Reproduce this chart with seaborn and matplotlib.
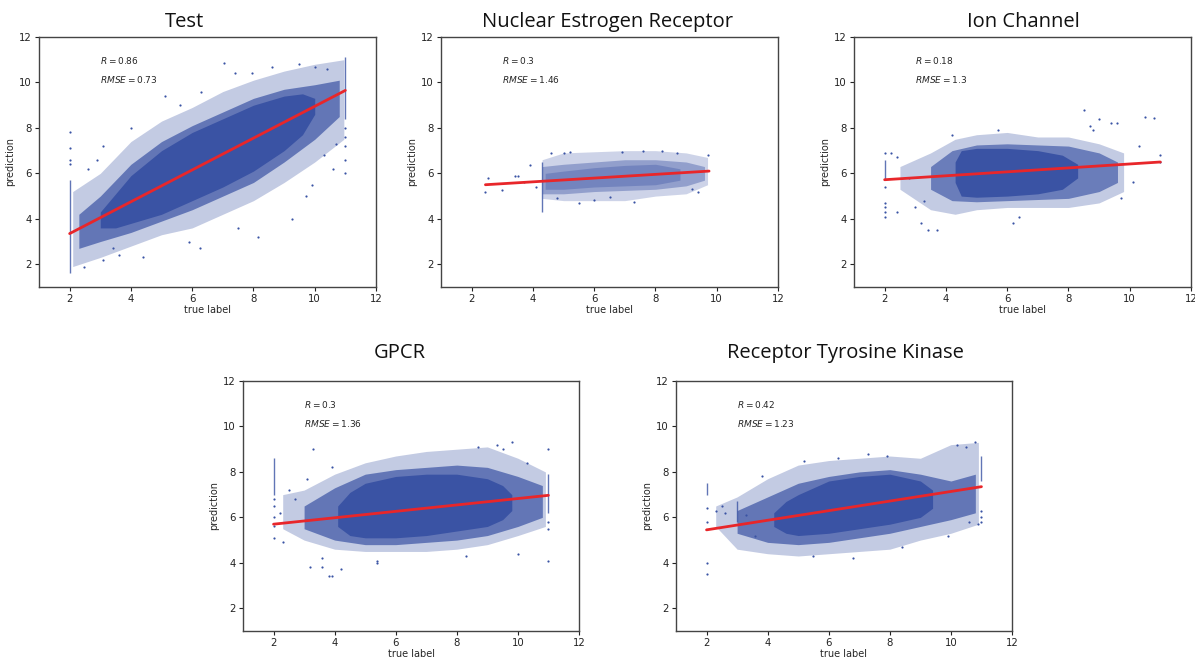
import numpy as np
import pandas as pd
import matplotlib
matplotlib.use("Agg")
import matplotlib.pyplot as plt
import seaborn as sns

# ---------------- data ----------------
titles = ["Test", "Nuclear Estrogen Receptor", "Ion Channel", "GPCR",
          "Receptor Tyrosine Kinase"]
r_values = [0.86, 0.3, 0.18, 0.3, 0.42]
rmse_values = [0.73, 1.46, 1.3, 1.36, 1.23]
x_ticks = [2, 4, 6, 8, 10, 12]
y_ticks = [2, 4, 6, 8, 10, 12]

# regression line end points (x, y)
test_line_x = [2.0, 11.0];  test_line_y = [3.35, 9.65]
ner_line_x = [2.45, 9.75];  ner_line_y = [5.5, 6.1]
ion_line_x = [2.0, 11.0];   ion_line_y = [5.72, 6.5]
gpcr_line_x = [2.0, 11.0];  gpcr_line_y = [5.7, 6.97]
rtk_line_x = [2.0, 11.0];   rtk_line_y = [5.45, 7.35]

# point-cloud envelopes: sparse outer band, medium band, dense core
test_outer_x = [2.1, 3, 4, 5, 6, 7, 8, 9, 10, 10.95]
test_outer_lo = [1.9, 2.3, 2.8, 3.3, 3.6, 4.2, 4.8, 5.6, 6.5, 7.5]
test_outer_hi = [5.2, 6.0, 7.4, 8.3, 8.9, 9.6, 10.1, 10.5, 10.8, 11.0]
test_mid_x = [2.3, 3, 4, 5, 6, 7, 8, 9, 10, 10.8]
test_mid_lo = [2.7, 3.0, 3.4, 3.9, 4.4, 5.0, 5.6, 6.5, 7.5, 8.5]
test_mid_hi = [4.2, 5.0, 6.4, 7.4, 8.1, 8.7, 9.3, 9.7, 9.9, 10.1]
test_core_x = [3.0, 3.5, 4, 5, 6, 7, 8, 9, 9.6, 10.0]
test_core_lo = [3.6, 3.6, 3.8, 4.2, 4.8, 5.4, 6.1, 7.0, 7.7, 8.6]
test_core_hi = [4.3, 5.1, 5.9, 7.0, 7.8, 8.4, 9.0, 9.4, 9.5, 9.3]

ner_outer_x = [4.3, 5, 6, 7, 8, 9, 9.7]
ner_outer_lo = [4.9, 4.8, 4.8, 4.8, 5.0, 5.1, 5.5]
ner_outer_hi = [6.6, 6.9, 6.95, 7.0, 7.0, 6.9, 6.7]
ner_mid_x = [4.3, 5, 6, 7, 8, 9, 9.6]
ner_mid_lo = [5.1, 5.1, 5.2, 5.25, 5.3, 5.45, 5.7]
ner_mid_hi = [6.3, 6.4, 6.5, 6.6, 6.6, 6.5, 6.3]
ner_core_x = [4.4, 5, 6, 7, 8, 8.8]
ner_core_lo = [5.3, 5.3, 5.4, 5.45, 5.5, 5.7]
ner_core_hi = [6.0, 6.1, 6.25, 6.35, 6.4, 6.2]

ion_outer_x = [2.5, 3.5, 4.3, 5, 6, 7, 8, 9, 9.8]
ion_outer_lo = [5.3, 4.4, 4.2, 4.4, 4.5, 4.5, 4.5, 4.7, 5.2]
ion_outer_hi = [6.3, 6.9, 7.5, 7.7, 7.8, 7.6, 7.6, 7.3, 6.9]
ion_mid_x = [3.5, 4.2, 5, 6, 7, 8, 9, 9.6]
ion_mid_lo = [5.3, 4.8, 4.75, 4.8, 4.85, 4.9, 5.2, 5.6]
ion_mid_hi = [6.3, 7.0, 7.25, 7.3, 7.25, 7.2, 6.9, 6.5]
ion_core_x = [4.3, 4.5, 5, 6, 7, 7.8, 8.3]
ion_core_lo = [5.6, 5.0, 4.95, 5.0, 5.1, 5.3, 5.8]
ion_core_hi = [6.5, 7.0, 7.1, 7.1, 7.0, 6.8, 6.4]

gpcr_outer_x = [2.3, 3, 4, 5, 6, 7, 8, 9, 10, 10.9]
gpcr_outer_lo = [5.5, 5.0, 4.6, 4.5, 4.5, 4.5, 4.6, 4.8, 5.2, 5.6]
gpcr_outer_hi = [7.0, 7.2, 7.9, 8.4, 8.7, 8.9, 9.0, 9.1, 8.6, 8.0]
gpcr_mid_x = [3, 4, 5, 6, 7, 8, 9, 10, 10.8]
gpcr_mid_lo = [5.5, 5.0, 4.8, 4.8, 4.9, 5.0, 5.2, 5.6, 6.0]
gpcr_mid_hi = [6.5, 7.3, 7.9, 8.1, 8.2, 8.3, 8.2, 7.8, 7.4]
gpcr_core_x = [4.1, 4.5, 5, 6, 7, 8, 9, 9.5, 9.8]
gpcr_core_lo = [5.6, 5.2, 5.1, 5.1, 5.2, 5.4, 5.6, 5.9, 6.3]
gpcr_core_hi = [6.5, 7.1, 7.5, 7.8, 7.9, 7.9, 7.7, 7.4, 7.0]

rtk_outer_x = [2.3, 3, 4, 5, 6, 7, 8, 9, 10, 10.9]
rtk_outer_lo = [5.6, 4.6, 4.4, 4.3, 4.4, 4.5, 4.6, 5.0, 5.3, 5.7]
rtk_outer_hi = [6.5, 6.9, 7.7, 8.3, 8.5, 8.6, 8.7, 8.6, 9.2, 9.3]
rtk_mid_x = [3, 4, 5, 6, 7, 8, 9, 10, 10.8]
rtk_mid_lo = [5.3, 4.9, 4.8, 4.9, 5.1, 5.3, 5.6, 5.9, 6.2]
rtk_mid_hi = [6.3, 6.9, 7.5, 7.8, 8.0, 8.1, 7.9, 7.6, 7.9]
rtk_core_x = [4.2, 4.6, 5, 6, 7, 8, 9, 9.4]
rtk_core_lo = [5.6, 5.3, 5.2, 5.3, 5.5, 5.7, 6.0, 6.4]
rtk_core_hi = [6.2, 6.7, 7.0, 7.6, 7.8, 7.9, 7.6, 7.2]

# vertical streaks of points at a single true label: (x, y_low, y_high)
test_streaks = [(2.0, 1.6, 5.7), (11.0, 8.4, 11.1)]
ner_streaks = [(4.3, 4.3, 6.5)]
ion_streaks = [(2.0, 5.7, 6.6)]
gpcr_streaks = [(2.0, 7.0, 8.6), (11.0, 6.2, 7.9)]
rtk_streaks = [(2.0, 7.0, 7.5), (3.0, 5.8, 6.7), (11.0, 7.6, 8.7)]

# isolated points
test_pts_x = [5.12, 7.05, 7.4, 7.96, 6.26, 8.15, 4.4, 2.47, 9.27, 10.6, 3.1, 2.9, 4.0,
              8.6, 9.5, 10.0, 10.4, 9.9, 7.5, 5.9, 3.6, 3.1, 9.7, 6.3, 5.6, 2.0, 2.0,
              2.0, 2.0, 11.0, 11.0, 11.0, 11.0, 11.0, 2.6, 3.4, 10.3, 10.7]
test_pts_y = [9.4, 10.85, 10.4, 10.4, 2.7, 3.2, 2.3, 1.9, 4.0, 6.2, 7.2, 6.6, 8.0,
              10.7, 10.8, 10.7, 10.6, 5.5, 3.6, 3.0, 2.4, 2.2, 5.0, 9.6, 9.0, 6.4, 6.6,
              7.1, 7.8, 6.0, 6.6, 7.2, 7.6, 8.0, 6.2, 2.7, 6.8, 7.3]
ner_pts_x = [2.45, 2.55, 3.0, 3.4, 3.5, 3.9, 3.7, 4.1, 4.6, 5.2, 5.5, 7.3, 8.2, 9.4,
             9.7, 4.8, 6.0, 6.9, 7.6, 8.7, 9.2, 5.0, 6.5]
ner_pts_y = [5.18, 5.8, 5.27, 5.88, 5.88, 6.35, 5.6, 5.4, 6.9, 6.95, 4.7, 4.75, 7.0,
             5.2, 6.8, 4.9, 4.85, 6.95, 7.0, 6.9, 5.3, 6.9, 4.95]
ion_pts_x = [8.5, 10.5, 10.8, 9.0, 9.4, 8.7, 3.2, 3.4, 3.7, 6.2, 6.4, 5.7, 4.2, 10.3,
             11.0, 11.0, 10.1, 2.4, 2.2, 2.4, 9.7, 2.0, 2.0, 2.0, 2.0, 2.0, 2.0, 2.8,
             3.0, 3.3, 9.6, 8.8]
ion_pts_y = [8.8, 8.5, 8.45, 8.4, 8.2, 8.1, 3.8, 3.5, 3.5, 3.8, 4.1, 7.9, 7.7, 7.2,
             6.8, 6.5, 5.6, 4.3, 6.9, 6.7, 4.9, 6.9, 5.4, 4.7, 4.5, 4.3, 4.1, 5.8,
             4.5, 4.8, 8.2, 7.9]
gpcr_pts_x = [3.3, 3.2, 3.6, 3.8, 3.9, 4.2, 3.6, 5.4, 5.4, 8.3, 10.0, 11.0, 9.3, 9.8,
              3.9, 2.2, 2.5, 2.3, 2.0, 2.0, 2.0, 2.0, 2.0, 11.0, 11.0, 11.0, 8.7, 9.5,
              10.3, 3.1, 2.7]
gpcr_pts_y = [9.0, 3.8, 3.8, 3.4, 3.4, 3.75, 4.2, 4.1, 4.0, 4.3, 4.4, 4.1, 9.2, 9.3,
              8.2, 6.2, 7.2, 4.9, 5.1, 5.6, 6.0, 6.5, 6.8, 9.0, 5.5, 5.8, 9.1, 9.0,
              8.4, 7.7, 6.8]
rtk_pts_x = [2.0, 2.0, 2.0, 2.0, 2.3, 2.5, 2.6, 3.3, 3.8, 5.2, 6.8, 7.3, 7.9, 8.4,
             9.9, 10.2, 10.5, 10.8, 11.0, 11.0, 11.0, 10.6, 10.9, 6.3, 5.5, 3.6]
rtk_pts_y = [4.0, 3.5, 6.4, 5.8, 6.3, 6.5, 6.2, 6.1, 7.8, 8.5, 4.2, 8.8, 8.7, 4.7,
             5.2, 9.2, 9.1, 9.3, 6.3, 6.0, 5.8, 5.8, 5.7, 8.6, 4.3, 5.2]

# ---------------- assemble panel table ----------------
panels = [
    dict(line=(test_line_x, test_line_y),
         outer=(test_outer_x, test_outer_lo, test_outer_hi),
         mid=(test_mid_x, test_mid_lo, test_mid_hi),
         core=(test_core_x, test_core_lo, test_core_hi), alphas=(0.3, 0.7, 1.0),
         streaks=test_streaks, pts=(test_pts_x, test_pts_y)),
    dict(line=(ner_line_x, ner_line_y),
         outer=(ner_outer_x, ner_outer_lo, ner_outer_hi),
         mid=(ner_mid_x, ner_mid_lo, ner_mid_hi),
         core=(ner_core_x, ner_core_lo, ner_core_hi), alphas=(0.25, 0.4, 0.35),
         streaks=ner_streaks, pts=(ner_pts_x, ner_pts_y)),
    dict(line=(ion_line_x, ion_line_y),
         outer=(ion_outer_x, ion_outer_lo, ion_outer_hi),
         mid=(ion_mid_x, ion_mid_lo, ion_mid_hi),
         core=(ion_core_x, ion_core_lo, ion_core_hi), alphas=(0.3, 0.65, 1.0),
         streaks=ion_streaks, pts=(ion_pts_x, ion_pts_y)),
    dict(line=(gpcr_line_x, gpcr_line_y),
         outer=(gpcr_outer_x, gpcr_outer_lo, gpcr_outer_hi),
         mid=(gpcr_mid_x, gpcr_mid_lo, gpcr_mid_hi),
         core=(gpcr_core_x, gpcr_core_lo, gpcr_core_hi), alphas=(0.3, 0.7, 1.0),
         streaks=gpcr_streaks, pts=(gpcr_pts_x, gpcr_pts_y)),
    dict(line=(rtk_line_x, rtk_line_y),
         outer=(rtk_outer_x, rtk_outer_lo, rtk_outer_hi),
         mid=(rtk_mid_x, rtk_mid_lo, rtk_mid_hi),
         core=(rtk_core_x, rtk_core_lo, rtk_core_hi), alphas=(0.3, 0.7, 1.0),
         streaks=rtk_streaks, pts=(rtk_pts_x, rtk_pts_y)),
]

BLUE = "#3a53a4"
RED = "#e8262a"

sns.set_style("ticks")
plt.rcParams["font.family"] = ["DejaVu Sans"]

fig = plt.figure(figsize=(11.95, 6.6), dpi=100)
W, H = 1195.0, 660.0
# axes boxes in pixels: left, top, right, bottom
boxes = [(39, 37, 376, 287), (441, 37, 778, 287), (854, 37, 1191, 287),
         (243, 381, 579, 631), (676, 381, 1012, 631)]
title_pos = [(185, 22), (608, 22), (1023, 22), (400, 353), (845, 353)]

for i, p in enumerate(panels):
    l, t, r, b = boxes[i]
    ax = fig.add_axes([l / W, 1 - b / H, (r - l) / W, (b - t) / H])
    a_out, a_mid, a_core = p["alphas"]
    ox, olo, ohi = p["outer"]
    ax.fill_between(ox, olo, ohi, color=BLUE, alpha=a_out, lw=0)
    mx, mlo, mhi = p["mid"]
    ax.fill_between(mx, mlo, mhi, color=BLUE, alpha=a_mid, lw=0)
    cx, clo, chi = p["core"]
    ax.fill_between(cx, clo, chi, color=BLUE, alpha=a_core, lw=0)
    for sx, slo, shi in p["streaks"]:
        ax.vlines(sx, slo, shi, color=BLUE, lw=1.0, alpha=0.8)
    px, py = p["pts"]
    sns.scatterplot(x=px, y=py, s=2.5, color=BLUE, linewidth=0, ax=ax)
    lx, ly = p["line"]
    sns.lineplot(x=lx, y=ly, color=RED, lw=2, ax=ax)

    ax.set_xlim(1, 12)
    ax.set_ylim(1, 12)
    ax.set_xticks(x_ticks)
    ax.set_yticks(y_ticks)
    ax.tick_params(labelsize=7.3, length=3, width=0.8, pad=2, colors="#222222")
    for s in ax.spines.values():
        s.set_linewidth(1.0)
        s.set_color("#444444")
    ax.set_xlabel("true label", fontsize=7, labelpad=1)
    ax.set_ylabel("prediction", fontsize=7, labelpad=3)
    ax.text(3.0, 10.95, rf"$R = {r_values[i]}$", fontsize=6.5, va="center", ha="left")
    ax.text(3.0, 10.15, rf"$RMSE = {rmse_values[i]}$", fontsize=6.5, va="center", ha="left")

    tx, ty = title_pos[i]
    fig.text(tx / W, 1 - ty / H, titles[i], fontsize=14.5, family=["Open Sans", "DejaVu Sans"],
             ha="center", va="center", color="#111111")

fig.savefig("out.png", dpi=100)
